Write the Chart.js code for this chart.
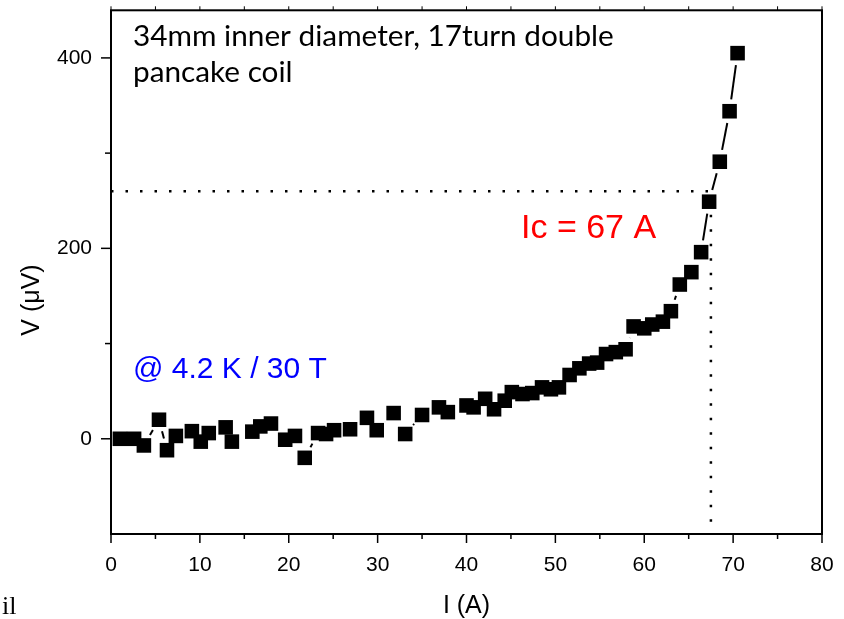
<!DOCTYPE html>
<html><head><meta charset="utf-8">
<script src="https://cdn.jsdelivr.net/npm/chart.js@4.4.1/dist/chart.umd.min.js"></script>
<style>html,body{margin:0;padding:0;background:#fff;overflow:hidden}#wrap{width:844px;height:619px}</style>
</head><body><div id="wrap"><canvas id="c" width="844" height="619"></canvas></div>
<script>
// ---- data ----
const currentA = [1.0, 2.6, 3.7, 5.4, 6.3, 7.3, 9.1, 10.1, 11.0, 12.9,
  13.6, 15.9, 16.8, 18.0, 19.6, 20.7, 21.8, 23.3, 24.2, 25.1,
  26.9, 28.8, 29.9, 31.8, 33.1, 35.0, 36.9, 37.9, 40.0, 40.8,
  42.1, 43.1, 44.3, 45.1, 46.3, 47.4, 48.5, 49.5, 50.4, 51.6,
  52.7, 53.8, 54.7, 55.7, 56.8, 57.9, 58.8, 60.0, 60.9, 62.1,
  63.0, 64.0, 65.3, 66.4, 67.3, 68.5, 69.6, 70.5];
const voltageUV = [0, 0, -7, 20, -12, 3, 8, -3, 6, 12,
  -3, 7.5, 13, 16, -1, 3, -20, 6, 5, 9,
  10, 22, 9, 27, 5, 25, 33, 28, 35, 33,
  42, 31, 40, 49, 47, 48, 54, 52, 54, 67,
  74, 79, 80, 89, 91, 94, 118, 116, 120, 123,
  134, 162, 175, 196, 249, 291, 344, 405];
const icLineI = [0, 67.5, 67.5];
const icLineV = [260, 260, -100];
const xTickValues = [0, 10, 20, 30, 40, 50, 60, 70, 80];
const xMinorValues = [5, 15, 25, 35, 45, 55, 65, 75];
const yTickValues = [0, 200, 400];
const yMinorValues = [100, 300];
const headerLines = ['34mm inner diameter, 17turn double', 'pancake coil'];
const icLabel = 'Ic = 67 A';
const condLabel = '@ 4.2 K / 30 T';
const xTitle = 'I (A)';
const yTitle = 'V (\u03bcV)';
const strayText = 'il';

const GAP = 12;
function segLen(c) { return Math.hypot(c.p1.x - c.p0.x, c.p1.y - c.p0.y); }
function noPad(s) { s.paddingTop = 0; s.paddingBottom = 0; s.paddingLeft = 0; s.paddingRight = 0; }

const decor = {
  id: 'decor',
  afterDraw(chart) {
    const ctx = chart.ctx, a = chart.chartArea, xs = chart.scales.x, ys = chart.scales.y;
    ctx.save();
    ctx.strokeStyle = '#000';
    ctx.lineWidth = 2;
    ctx.strokeRect(a.left, a.top, a.right - a.left, a.bottom - a.top);
    ctx.lineWidth = 1.5;
    const seg = (x1, y1, x2, y2) => { ctx.beginPath(); ctx.moveTo(x1, y1); ctx.lineTo(x2, y2); ctx.stroke(); };
    xTickValues.forEach(v => { const p = xs.getPixelForValue(v); seg(p, a.bottom, p, a.bottom + 9); });
    xMinorValues.forEach(v => { const p = xs.getPixelForValue(v); seg(p, a.bottom, p, a.bottom + 5); });
    ctx.lineWidth = 1;
    xTickValues.concat(xMinorValues).forEach(v => { const p = xs.getPixelForValue(v); seg(p, a.top, p, a.top - 4); });
    ctx.lineWidth = 1.5;
    yTickValues.forEach(v => { const p = ys.getPixelForValue(v); seg(a.left, p, a.left - 10, p); });
    yMinorValues.forEach(v => { const p = ys.getPixelForValue(v); seg(a.left, p, a.left - 6, p); });

    // y title
    ctx.fillStyle = '#000';
    ctx.font = '25px "Liberation Sans", Arial, sans-serif';
    ctx.textAlign = 'center';
    ctx.textBaseline = 'middle';
    ctx.save();
    ctx.translate(32, 300);
    ctx.rotate(-Math.PI / 2);
    ctx.fillText(yTitle, 0, 0);
    ctx.restore();

    // header (Calibri-like), fitted to reference width
    ctx.textAlign = 'left';
    ctx.textBaseline = 'alphabetic';
    ctx.font = '30px Lato, sans-serif';
    const w = ctx.measureText(headerLines[0]).width;
    const hs = 30 * 481 / w;
    ctx.font = hs.toFixed(2) + 'px Lato, sans-serif';
    ctx.fillText(headerLines[0], 133, 46);
    ctx.fillText(headerLines[1], 133, 82);

    // Ic label
    ctx.fillStyle = '#ff0000';
    ctx.font = '34px "Liberation Sans", Arial, sans-serif';
    ctx.fillText(icLabel, 521, 238);

    // condition label
    ctx.fillStyle = '#0000ff';
    ctx.font = '30px "Liberation Sans", Arial, sans-serif';
    ctx.fillText(condLabel, 133, 378);

    // stray text at bottom-left
    ctx.fillStyle = '#000';
    ctx.font = '26px "Liberation Serif", serif';
    ctx.fillText(strayText, 2, 614);
    ctx.restore();
  }
};

new Chart(document.getElementById('c'), {
  type: 'scatter',
  data: {
    datasets: [
      {
        label: 'V',
        data: currentA.map((x, i) => ({x, y: voltageUV[i]})),
        showLine: true,
        borderColor: '#000',
        borderWidth: 2,
        pointStyle: 'rect',
        pointRadius: 10.3,
        pointHoverRadius: 10.3,
        pointBackgroundColor: '#000',
        pointBorderWidth: 0,
        pointHoverBorderWidth: 0,
        order: 0,
        clip: false,
        segment: {
          borderDash: c => { const L = segLen(c); return [Math.max(L - 2 * GAP, 0), 2 * GAP + 2000]; },
          borderDashOffset: c => -GAP
        }
      },
      {
        label: 'Ic',
        data: icLineI.map((x, i) => ({x, y: icLineV[i]})),
        showLine: true,
        borderColor: '#000',
        borderWidth: 2.5,
        borderDash: [2.5, 12],
        borderCapStyle: 'butt',
        pointRadius: 0,
        pointHoverRadius: 0,
        order: 1
      }
    ]
  },
  options: {
    responsive: false,
    animation: false,
    events: [],
    devicePixelRatio: 1,
    layout: {padding: {top: 5, right: 22, bottom: 0, left: 0}},
    plugins: {legend: {display: false}, tooltip: {enabled: false}},
    scales: {
      x: {
        type: 'linear', min: 0, max: 80,
        afterFit: s => { s.height = 85; noPad(s); },
        afterBuildTicks: s => { s.ticks = xTickValues.map(v => ({value: v})); },
        ticks: {color: '#000', font: {family: '"Liberation Sans", Arial, sans-serif', size: 21}, padding: 19, maxRotation: 0, autoSkip: false},
        grid: {display: false, drawTicks: false},
        border: {display: false},
        title: {display: true, text: xTitle, color: '#000', font: {family: '"Liberation Sans", Arial, sans-serif', size: 25, lineHeight: 1}, padding: {top: 0, bottom: 0}}
      },
      y: {
        type: 'linear', min: -100, max: 450,
        afterFit: s => { s.width = 111; noPad(s); },
        afterBuildTicks: s => { s.ticks = yTickValues.map(v => ({value: v})); },
        ticks: {color: '#000', font: {family: '"Liberation Sans", Arial, sans-serif', size: 21}, padding: 19, autoSkip: false},
        grid: {display: false, drawTicks: false},
        border: {display: false}
      }
    }
  },
  plugins: [decor]
});
</script>
</body></html>
